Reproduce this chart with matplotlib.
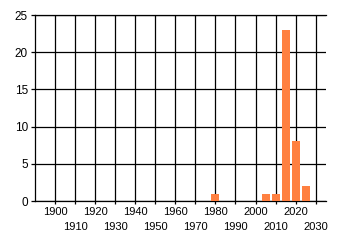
import matplotlib
matplotlib.use('Agg')
import matplotlib.pyplot as plt

# histogram of years, 5-year bins
bin_centers = [1980, 2005, 2010, 2015, 2020, 2025]
counts = [1, 1, 1, 23, 8, 2]

x_ticks_top = list(range(1900, 2021, 20))   # first row of labels
x_ticks_low = list(range(1910, 2031, 20))   # second row of labels
y_ticks = [0, 5, 10, 15, 20, 25]

plt.rcParams['font.family'] = ['Liberation Sans', 'DejaVu Sans']

fig = plt.figure(figsize=(3.4, 2.45), dpi=100)
ax = fig.add_axes([35/340, 44/245, 290.7/340, 186/245])

ax.bar(bin_centers, counts, width=4, color='#FF8040', zorder=3)

ax.set_xlim(1890, 2035)
ax.set_ylim(0, 25)

ax.set_xticks(x_ticks_top)
ax.set_xticklabels([str(t) for t in x_ticks_top], fontsize=8)
ax.set_xticks(x_ticks_low, minor=True)
ax.set_xticklabels([str(t) for t in x_ticks_low], minor=True, fontsize=8)
ax.set_yticks(y_ticks)
ax.set_yticklabels([str(v) for v in y_ticks], fontsize=8.5)

ax.grid(True, which='both', axis='x', color='black', lw=0.9, zorder=1)
ax.grid(True, axis='y', color='black', lw=0.9, zorder=1)
ax.axhline(25, color='black', lw=0.9, clip_on=False)
ax.tick_params(axis='x', which='major', length=2.5, width=0.9, pad=1.5, color='black')
ax.tick_params(axis='x', which='minor', length=2.5, width=0.9, pad=12.5, color='black')
ax.tick_params(axis='y', length=3, width=0.9, pad=2, color='black')
ax.spines['right'].set_visible(False)
ax.spines['top'].set_visible(False)
ax.spines['left'].set_linewidth(0.9)
ax.spines['bottom'].set_linewidth(0.9)

fig.savefig('out.png', dpi=100)
